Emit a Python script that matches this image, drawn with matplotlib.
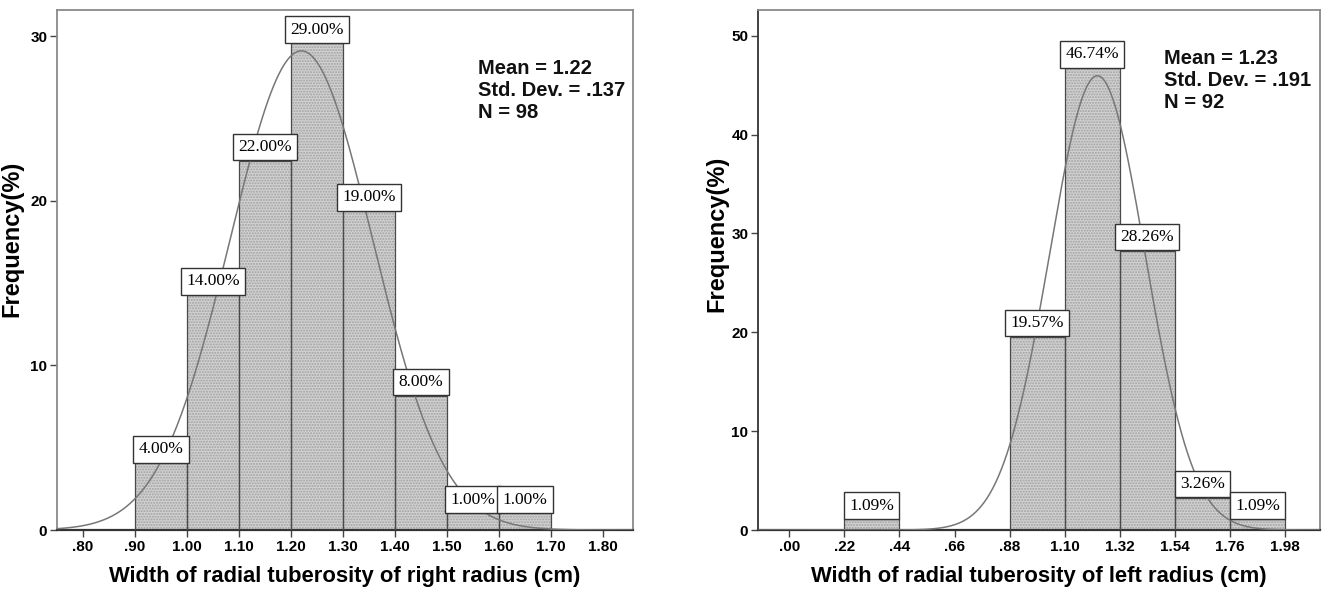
import numpy as np
import matplotlib
matplotlib.use("Agg")
import matplotlib.pyplot as plt

# right radius: bin counts (labelled as "%" in the original), N = 98
right_bin_left = [0.90, 1.00, 1.10, 1.20, 1.30, 1.40, 1.50, 1.60]
right_count = [4, 14, 22, 29, 19, 8, 1, 1]
right_width = 0.10
right_ticks = [0.80, 0.90, 1.00, 1.10, 1.20, 1.30, 1.40, 1.50, 1.60, 1.70, 1.80]
right_ticklabels = [".80", ".90", "1.00", "1.10", "1.20", "1.30", "1.40", "1.50", "1.60", "1.70", "1.80"]
right_stats = (1.22, 0.137, 98)

# left radius: percent per bin, N = 92
left_bin_left = [0.22, 0.88, 1.10, 1.32, 1.54, 1.76]
left_pct = [1.09, 19.57, 46.74, 28.26, 3.26, 1.09]
left_width = 0.22
left_ticks = [0.00, 0.22, 0.44, 0.66, 0.88, 1.10, 1.32, 1.54, 1.76, 1.98]
left_ticklabels = [".00", ".22", ".44", ".66", ".88", "1.10", "1.32", "1.54", "1.76", "1.98"]
left_stats = (1.23, 0.191, 92)

narrow = ["Liberation Sans Narrow", "Liberation Sans", "DejaVu Sans"]
sans = ["Liberation Sans", "DejaVu Sans"]
serif = ["Liberation Serif", "DejaVu Serif"]

fig = plt.figure(figsize=(13.23, 5.96), dpi=100)
ax1 = fig.add_axes([0.0431, 0.1107, 0.4354, 0.8725])
ax2 = fig.add_axes([0.5730, 0.1107, 0.4250, 0.8725])


def draw_panel(ax, lefts, heights, labels, width, ticks, ticklabels, stats, xlim, ylim,
               yticks, xlabel, stat_xy, ylab_xy, left_dark):
    # dotted grey fill, then dark outline on top
    ax.bar(lefts, heights, width=width, align="edge", color="#d2d2d2",
           edgecolor="#a0a0a0", hatch="......", linewidth=0, zorder=2)
    ax.bar(lefts, heights, width=width, align="edge", fill=False,
           edgecolor="#4a4a4a", linewidth=0.9, zorder=3)

    # fitted normal curve from the stated mean / sd
    mean, sd, n = stats
    xs = np.linspace(xlim[0], xlim[1], 600)
    ys = 100 * width * np.exp(-0.5 * ((xs - mean) / sd) ** 2) / (sd * np.sqrt(2 * np.pi))
    ax.plot(xs, ys, color="#777777", linewidth=1.1, zorder=4)

    for x0, h, lab in zip(lefts, heights, labels):
        ax.annotate(f"{lab:.2f}%", xy=(x0 + width / 2, h), xytext=(0, 4),
                    textcoords="offset points", ha="center", va="bottom",
                    fontsize=12.5, family=serif, zorder=5,
                    bbox=dict(boxstyle="square,pad=0.3", fc="white",
                              ec="#333333", lw=1.0))

    ax.text(stat_xy[0], stat_xy[1],
            f"Mean = {mean:.2f}\nStd. Dev. = {str(sd)[1:]}\nN = {n}",
            transform=ax.transAxes, ha="left", va="top", fontsize=14.5,
            fontweight="bold", family=sans, linespacing=1.2, color="#111111")

    ax.set_xlim(*xlim)
    ax.set_ylim(*ylim)
    ax.set_xticks(ticks)
    ax.set_xticklabels(ticklabels, family=narrow, fontweight="bold", fontsize=11)
    ax.set_yticks(yticks)
    ax.set_yticklabels([str(v) for v in yticks], family=narrow, fontweight="bold",
                       fontsize=11)
    ax.tick_params(length=5, width=1, color="#444444", pad=2)
    ax.set_xlabel(xlabel, family=sans, fontweight="bold", fontsize=15.8, labelpad=9)
    ax.set_ylabel("Frequency(%)", family=sans, fontweight="bold", fontsize=17)
    ax.yaxis.set_label_coords(*ylab_xy)
    for side in ["top", "right", "left"]:
        ax.spines[side].set_color("#8a8a8a")
        ax.spines[side].set_linewidth(1.3)
    if left_dark:
        ax.spines["left"].set_color("#333333")
    ax.spines["bottom"].set_color("#333333")
    ax.spines["bottom"].set_linewidth(1.6)


right_height = [c * 100 / right_stats[2] for c in right_count]
draw_panel(ax1, right_bin_left, right_height, right_count, right_width, right_ticks,
           right_ticklabels, right_stats, (0.75, 1.858), (0, 31.6), [0, 10, 20, 30],
           "Width of radial tuberosity of right radius (cm)", (0.731, 0.906),
           (-0.058, 0.56), False)
draw_panel(ax2, left_bin_left, left_pct, left_pct, left_width, left_ticks,
           left_ticklabels, left_stats, (-0.124, 2.12), (0, 52.6),
           [0, 10, 20, 30, 40, 50],
           "Width of radial tuberosity of left radius (cm)", (0.722, 0.925),
           (-0.052, 0.569), True)

fig.savefig("out.png", dpi=100)
